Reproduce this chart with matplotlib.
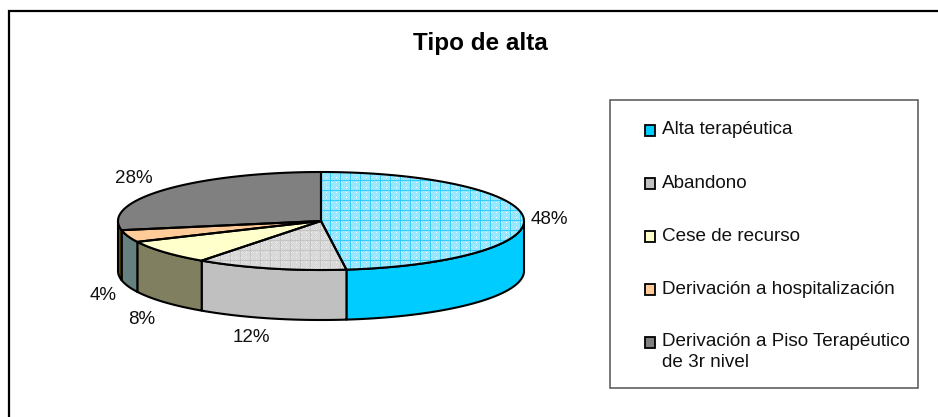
import numpy as np
import matplotlib
matplotlib.use("Agg")
import matplotlib.pyplot as plt
from matplotlib.patches import Polygon, Rectangle

plt.rcParams['font.family'] = ['Liberation Sans', 'DejaVu Sans']

title = "Tipo de alta"
categories = ["Alta terapéutica", "Abandono", "Cese de recurso",
              "Derivación a hospitalización",
              "Derivación a Piso Terapéutico\nde 3r nivel"]
values = [48, 12, 8, 4, 28]
top_colors = ["#99E6FF", "#DCDCDC", "#FFFFCC", "#FFCC99", "#808080"]
side_colors = ["#00CCFF", "#C0C0C0", "#808060", "#668080", "#665000"]
legend_colors = ["#00CCFF", "#C0C0C0", "#FFFFCC", "#FFCC99", "#808080"]
label_pos = [(549, 219), (251, 337), (142, 319), (103, 295), (134, 178)]

W, H = 938, 417
fig = plt.figure(figsize=(W / 100, H / 100), dpi=100)
ax = fig.add_axes([0, 0, 1, 1])
ax.set_xlim(0, W)
ax.set_ylim(H, 0)
ax.axis("off")

cx, cy, rx, ry, depth = 321, 221, 203, 49, 50


def rim(a0, a1, dy=0):
    t = np.radians(np.linspace(a0, a1, 120))
    return np.column_stack([cx + rx * np.sin(t), cy + dy - ry * np.cos(t)])


def texture(base, line, dot, dark=None):
    tile = np.empty((H, W, 3))
    tile[:] = matplotlib.colors.to_rgb(base)
    yy, xx = np.mgrid[0:H, 0:W]
    if dark is not None:
        tile[((xx + yy) % 2 == 0)] = matplotlib.colors.to_rgb(dark)
    tile[((xx % 5 == 1) & (yy % 5 == 2))] = matplotlib.colors.to_rgb(dot)
    grid = (xx % 10 < 1) | (yy % 10 < 1)
    tile[grid] = matplotlib.colors.to_rgb(line)
    return tile


textures = {
    0: texture("#8FE3FF", "#33CCFF", "#FFFFFF", dark="#A6EAFF"),
    1: texture("#DEDEDE", "#C4C4C4", "#F2F2F2", dark="#D4D4D4"),
}

edges = np.concatenate([[0], np.cumsum(values)]) / np.sum(values) * 360
lw = 1.5

# side wall
for i, v in enumerate(values):
    a0, a1 = max(edges[i], 90), min(edges[i + 1], 270)
    if a1 <= a0:
        continue
    wall = np.vstack([rim(a0, a1), rim(a0, a1, depth)[::-1]])
    ax.add_patch(Polygon(wall, closed=True, fc=side_colors[i], ec="black",
                         lw=lw, joinstyle="round", zorder=2))

# top face
for i, v in enumerate(values):
    top = np.vstack([[cx, cy], rim(edges[i], edges[i + 1])])
    p = Polygon(top, closed=True, fc=top_colors[i], ec="none", zorder=3)
    ax.add_patch(p)
    if i in textures:
        im = ax.imshow(textures[i], extent=(0, W, H, 0), aspect="auto",
                       interpolation="nearest", zorder=3.1)
        im.set_clip_path(p)
    ax.add_patch(Polygon(top, closed=True, fc="none", ec="black", lw=lw,
                         joinstyle="round", zorder=3.2))
ax.set_xlim(0, W)
ax.set_ylim(H, 0)

# percentage labels
for v, (x, y) in zip(values, label_pos):
    ax.text(x, y, f"{v}%", fontsize=13.5, color="#111111", ha="center", va="center", zorder=5)

# title
ax.text(480, 43, title, fontsize=17.5, fontweight="bold", ha="center", va="center", zorder=5)

# legend
ax.add_patch(Rectangle((609.5, 99.5), 308.5, 288.5, fc="white", ec="#606060", lw=1.2, zorder=1))
for i, (name, col) in enumerate(zip(categories, legend_colors)):
    y = 130 + 53 * i
    ax.add_patch(Rectangle((644.5, y - 5), 10.5, 10.5, fc=col, ec="black", lw=1.3, zorder=5))
    ty = y + 10 if "\n" in name else y
    ax.text(662, ty, name, fontsize=13.55, color="#111111", ha="left", va="center",
            linespacing=1.35, zorder=5)

# chart frame (top and left edges reach the picture borders)
ax.plot([9, 9, W], [H, 11, 11], color="black", lw=1.6, solid_joinstyle="miter", zorder=6)

fig.savefig("out.png", dpi=100)
